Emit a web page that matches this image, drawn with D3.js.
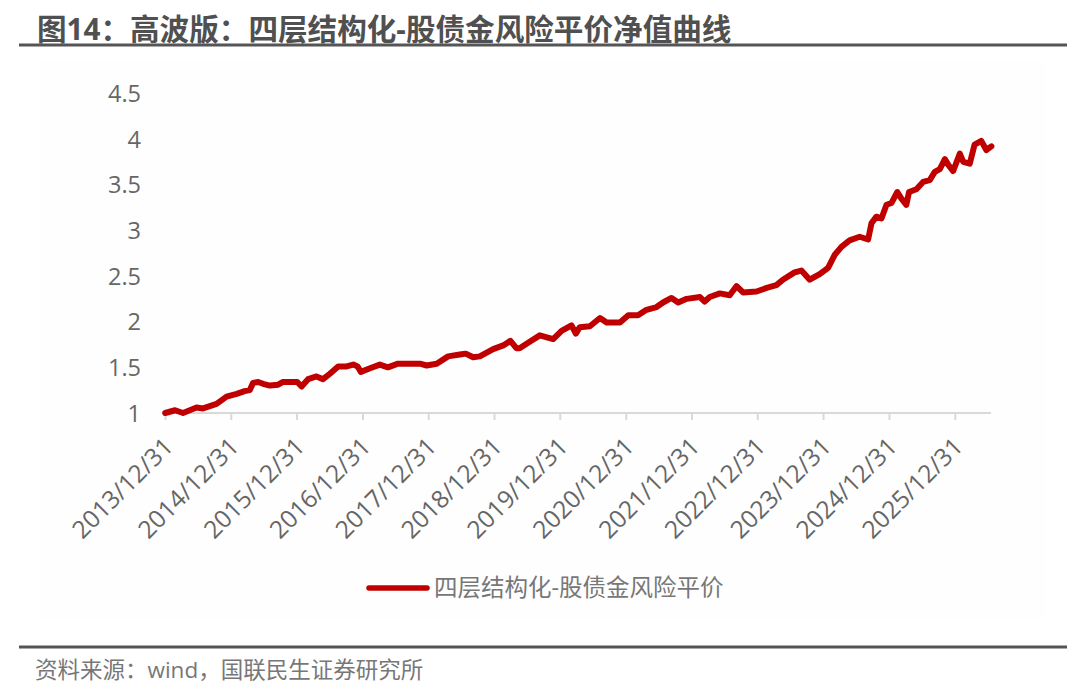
<!DOCTYPE html>
<html>
<head>
<meta charset="utf-8">
<script src="https://cdn.jsdelivr.net/npm/d3@7"></script>
<style>
  html, body { margin: 0; padding: 0; background: #ffffff; }
  svg { display: block; }
  text { font-family: "Open Sans", "Noto Sans CJK SC", sans-serif; }
</style>
</head>
<body>
<svg id="chart" width="1080" height="694"></svg>
<script>
// ---- data ----
const titleText = "图14：高波版：四层结构化-股债金风险平价净值曲线";
const seriesName = "四层结构化-股债金风险平价";
const sourceText = "资料来源：wind，国联民生证券研究所";

const dates = [
  "2014-01-01","2014-02-25","2014-04-10","2014-06-24","2014-07-30","2014-10-13","2014-12-08",
  "2015-02-02","2015-03-18","2015-04-15","2015-05-04","2015-06-01","2015-06-28","2015-08-05",
  "2015-09-20","2015-10-17","2015-12-12","2016-01-04","2016-01-28","2016-03-04","2016-04-20",
  "2016-05-26","2016-07-03","2016-08-18","2016-10-04","2016-11-10","2016-12-04","2016-12-22",
  "2017-02-11","2017-04-06","2017-05-21","2017-07-16","2017-09-20","2017-11-15","2017-12-22",
  "2018-02-16","2018-04-20","2018-06-24","2018-07-27","2018-09-06","2018-10-13","2018-12-26",
  "2019-02-20","2019-04-01","2019-05-04","2019-05-22","2019-07-17","2019-09-11","2019-11-24",
  "2020-01-10","2020-03-05","2020-03-29","2020-04-20","2020-06-15","2020-08-10","2020-09-16",
  "2020-11-29","2021-01-14","2021-03-09","2021-04-25","2021-06-20","2021-07-26","2021-09-11",
  "2021-10-18","2021-12-04","2022-02-16","2022-03-14","2022-04-11","2022-06-06","2022-07-31",
  "2022-09-07","2022-10-13","2022-12-27","2023-02-21","2023-04-16","2023-05-22","2023-07-26",
  "2023-09-02","2023-10-18","2023-12-12","2024-01-28","2024-03-04","2024-04-11","2024-05-26",
  "2024-07-21","2024-09-06","2024-09-25","2024-10-22","2024-11-19","2024-12-17","2025-01-14",
  "2025-02-15","2025-03-09","2025-04-06","2025-04-21","2025-06-01","2025-07-08","2025-08-14",
  "2025-09-11","2025-10-09","2025-11-06","2025-11-24","2025-12-22","2026-01-28","2026-02-16",
  "2026-03-24","2026-04-20","2026-05-27","2026-06-24","2026-07-22"
];
const navValues = [
  1.00,1.03,1.00,1.06,1.05,1.10,1.18,
  1.21,1.24,1.25,1.33,1.34,1.32,1.30,
  1.31,1.34,1.34,1.34,1.29,1.37,1.40,
  1.37,1.43,1.51,1.51,1.53,1.51,1.45,
  1.49,1.53,1.50,1.54,1.54,1.54,1.52,
  1.54,1.62,1.64,1.65,1.61,1.62,1.70,
  1.74,1.79,1.71,1.71,1.78,1.85,1.81,
  1.90,1.96,1.87,1.94,1.95,2.04,1.99,
  1.99,2.07,2.07,2.13,2.16,2.21,2.26,
  2.21,2.25,2.27,2.22,2.27,2.31,2.29,
  2.39,2.32,2.33,2.37,2.40,2.46,2.54,
  2.56,2.46,2.52,2.59,2.73,2.82,2.89,
  2.93,2.90,3.08,3.15,3.13,3.28,3.30,
  3.42,3.35,3.28,3.42,3.45,3.53,3.55,
  3.64,3.67,3.78,3.72,3.65,3.84,3.75,
  3.73,3.94,3.98,3.88,3.92
];
const xTickDates = [
  "2013-12-31","2014-12-31","2015-12-31","2016-12-31","2017-12-31","2018-12-31","2019-12-31",
  "2020-12-31","2021-12-31","2022-12-31","2023-12-31","2024-12-31","2025-12-31"
];
const yTicks = [1, 1.5, 2, 2.5, 3, 3.5, 4, 4.5];
const xDomain = ["2013-12-31", "2026-07-20"];

// ---- drawing ----
const parse = d3.timeParse("%Y-%m-%d");
const fmt = d3.timeFormat("%Y/%-m/%-d");
const data = dates.map((d, i) => ({ date: parse(d), v: navValues[i] }));

const svg = d3.select("#chart");
const textGrey = "#666666";

// faint chart area
svg.append("rect").attr("x", 40).attr("y", 60).attr("width", 1005).attr("height", 560)
  .attr("fill", "#fefefe");

// title
svg.append("text").attr("x", 37).attr("y", 40)
  .attr("font-family", "'Noto Sans CJK SC', sans-serif")
  .attr("font-size", 29.6).attr("font-weight", "bold").attr("fill", "#505050")
  .text(titleText);
svg.append("line").attr("x1", 19).attr("x2", 1067).attr("y1", 45).attr("y2", 45)
  .attr("stroke", "#555555").attr("stroke-width", 3);

// scales
const x = d3.scaleTime().domain(xDomain.map(parse)).range([165, 991]);
const y = d3.scaleLinear().domain([1, 4.5]).range([413, 93.4]);

// y axis (labels only)
const yAxis = d3.axisLeft(y).tickValues(yTicks).tickSize(0).tickPadding(0)
  .tickFormat(d => d3.format("")(d));
const gy = svg.append("g").attr("transform", "translate(141,0)").call(yAxis);
gy.select(".domain").remove();
gy.selectAll("text").attr("font-size", 23.5).attr("fill", textGrey)
  .attr("font-family", "'Open Sans', sans-serif").attr("dy", "0.35em");

// x axis
const xAxis = d3.axisBottom(x).tickValues(xTickDates.map(parse)).tickSize(7).tickFormat(fmt);
const gx = svg.append("g").attr("transform", "translate(0,413)").call(xAxis);
gx.select(".domain").attr("stroke", "#d9d9d9").attr("stroke-width", 2)
  .attr("d", `M${x.range()[0]},0H${x.range()[1]}`);
gx.selectAll(".tick line").attr("stroke", "#d9d9d9").attr("stroke-width", 2);
gx.selectAll(".tick text")
  .attr("font-size", 24.5).attr("fill", textGrey)
  .attr("font-family", "'Open Sans', sans-serif")
  .attr("text-anchor", "end")
  .attr("x", 0).attr("y", 0).attr("dy", "0.35em")
  .attr("transform", "translate(3,29) rotate(-45)");

// line
const line = d3.line().x(d => x(d.date)).y(d => y(d.v)).curve(d3.curveLinear);
svg.append("path").datum(data)
  .attr("d", line).attr("fill", "none")
  .attr("stroke", "#C00000").attr("stroke-width", 6)
  .attr("stroke-linejoin", "round").attr("stroke-linecap", "round");

// legend
svg.append("line").attr("x1", 369).attr("x2", 427).attr("y1", 588).attr("y2", 588)
  .attr("stroke", "#C00000").attr("stroke-width", 5.5).attr("stroke-linecap", "round");
svg.append("text").attr("x", 434).attr("y", 596)
  .attr("font-family", "'Noto Sans CJK SC', sans-serif")
  .attr("font-size", 23.5).attr("fill", "#777777")
  .text(seriesName);

// footer
svg.append("line").attr("x1", 19).attr("x2", 1067).attr("y1", 647).attr("y2", 647)
  .attr("stroke", "#555555").attr("stroke-width", 3);
svg.append("text").attr("x", 35).attr("y", 678)
  .attr("font-family", "'Noto Sans CJK SC', sans-serif")
  .attr("font-size", 22.5).attr("fill", "#777777")
  .text(sourceText);
</script>
</body>
</html>
